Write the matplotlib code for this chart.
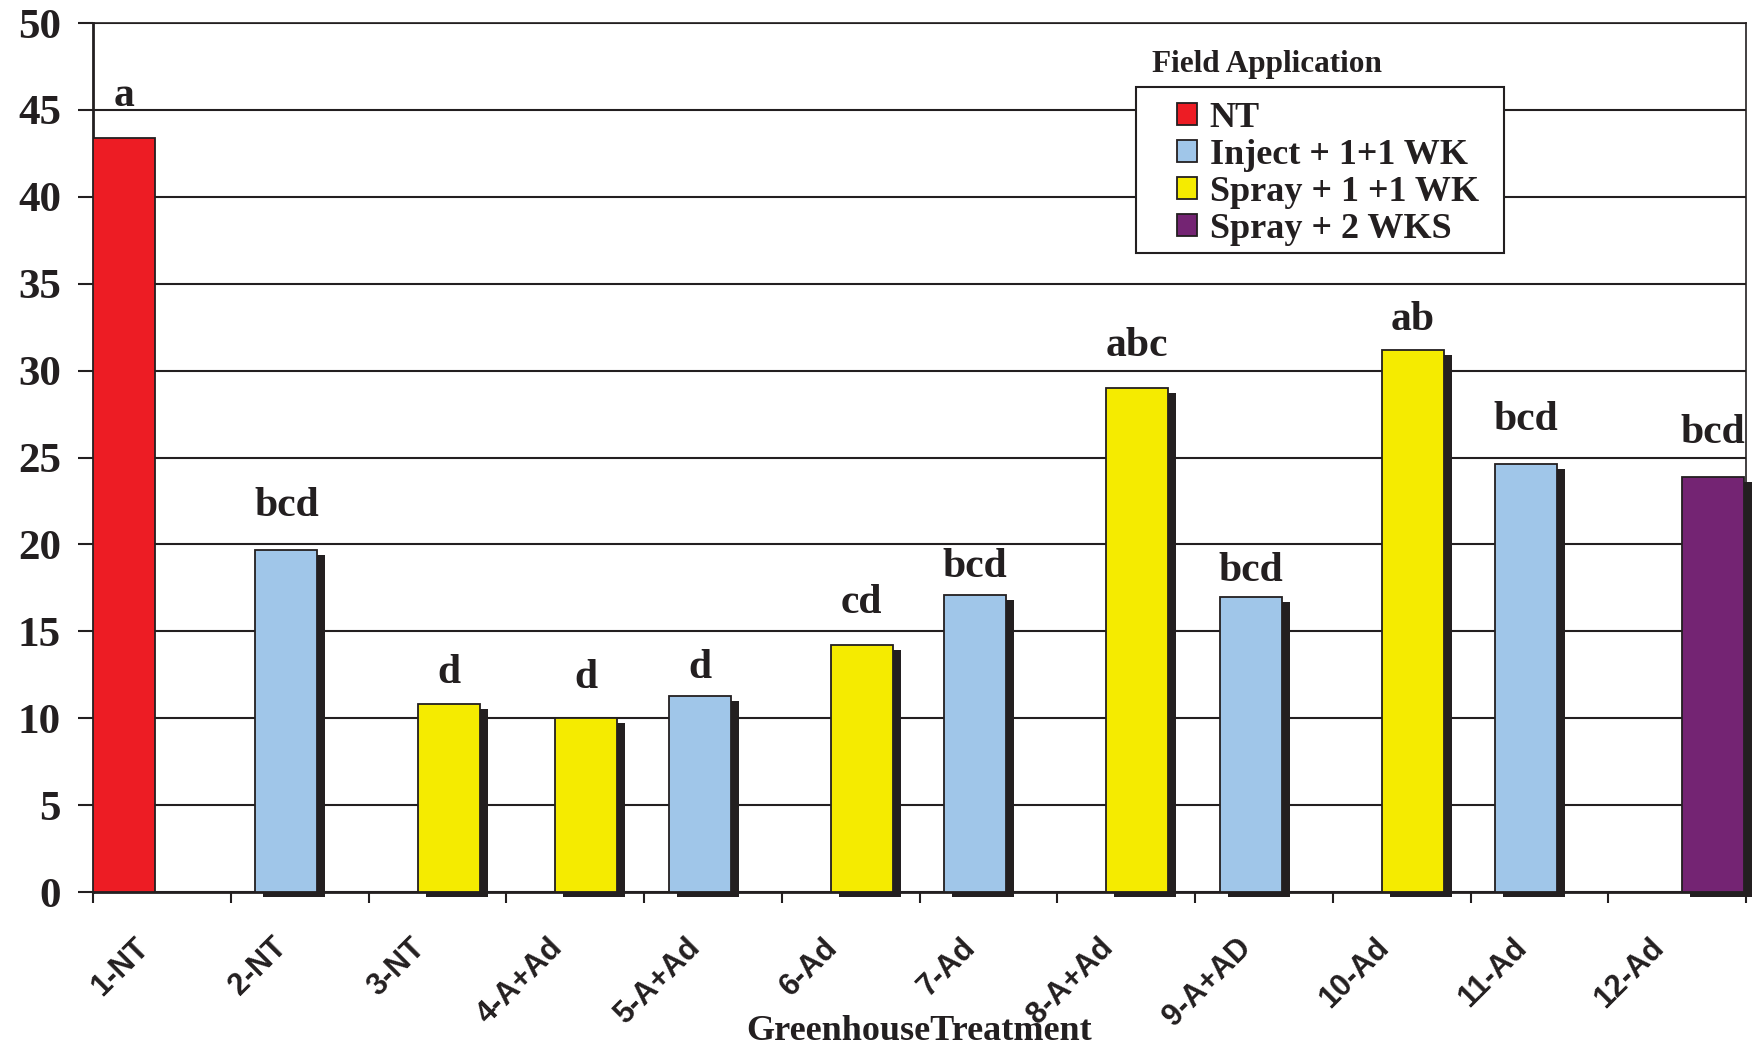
import matplotlib.pyplot as plt
from matplotlib.patches import Patch, Rectangle
from matplotlib.transforms import ScaledTranslation

categories = ["1-NT", "2-NT", "3-NT", "4-A+Ad", "5-A+Ad", "6-Ad",
              "7-Ad", "8-A+Ad", "9-A+AD", "10-Ad", "11-Ad", "12-Ad"]
values = [43.4, 19.7, 10.8, 10.0, 11.3, 14.2, 17.1, 29.0, 17.0, 31.2, 24.6, 23.9]
groups = [0, 1, 2, 2, 1, 2, 1, 2, 1, 2, 1, 3]
letters = ["a", "bcd", "d", "d", "d", "cd", "bcd", "abc", "bcd", "ab", "bcd", "bcd"]

series_names = ["NT", "Inject + 1+1 WK", "Spray + 1 +1 WK", "Spray + 2 WKS"]
series_colors = ["#ED1C24", "#A0C6E9", "#F5EB00", "#742473"]

# gap (points) between bar top and its letter, as placed in the original
letter_offsets = [23, 24.5, 15.5, 22, 12.5, 23, 12.5, 23, 11, 14, 24.5, 24.5]

INK = "#231F20"
SERIF = "Liberation Serif"
SANS = "Liberation Sans"

bar_w = 0.45
step = 0.178

fig = plt.figure(figsize=(17.56, 10.47), dpi=100)
ax = fig.add_axes([0.053, 0.148, 0.9413, 0.830])

lefts = [i + g * step for i, g in enumerate(groups)]
colors = [series_colors[g] for g in groups]

# drop shadow (the NT bar has none)
sh = [(x, v) for x, v, g in zip(lefts, values, groups) if g != 0]
shadow_tr = ax.transData + ScaledTranslation(8 / 100, -5 / 100, fig.dpi_scale_trans)
ax.bar([s[0] for s in sh], [s[1] for s in sh], width=bar_w, align="edge", color=INK,
       linewidth=0, transform=shadow_tr, zorder=2, clip_on=False)
ax.bar(lefts, values, width=bar_w, align="edge", color=colors,
       edgecolor=INK, linewidth=1.3, zorder=3)

for x, v, lab, off in zip(lefts, values, letters, letter_offsets):
    ax.annotate(lab, xy=(x + bar_w / 2, v), xytext=(0, off), textcoords="offset points",
                ha="center", va="baseline", fontsize=30, fontweight="bold",
                family=SERIF, color=INK, zorder=4)

ax.set_xlim(0, 12)
ax.set_ylim(0, 50)
ax.set_yticks(range(0, 51, 5))
ax.yaxis.grid(True, color=INK, linewidth=1.5)
ax.set_axisbelow(True)
ax.tick_params(axis="y", direction="out", length=11, width=1.5, color=INK, pad=12)
for t in ax.get_yticklabels():
    t.set_fontfamily(SERIF)
    t.set_fontweight("bold")
    t.set_fontsize(31)
    t.set_color(INK)

ax.set_xticks(range(13))
ax.set_xticklabels([])
ax.tick_params(axis="x", direction="out", length=8, width=1.5, color=INK)
for i, cat in enumerate(categories):
    ax.annotate(cat, xy=(i + 0.5, 0), xycoords=("data", "axes fraction"),
                xytext=(-20, -29), textcoords="offset points",
                ha="right", va="top", rotation=45, rotation_mode="anchor",
                fontsize=22, fontweight="bold", family=SANS, color=INK)

ax.set_xlabel("GreenhouseTreatment", fontsize=26, fontweight="bold",
              family=SERIF, color=INK, labelpad=0)
ax.xaxis.set_label_coords(0.5, -0.141)

for side in ["left", "bottom"]:
    ax.spines[side].set_linewidth(2)
    ax.spines[side].set_color(INK)
for side in ["right", "top"]:
    ax.spines[side].set_linewidth(1.2)
    ax.spines[side].set_color(INK)

# legend: entries without frame, box drawn separately to get the wide side margins
ax.add_patch(Rectangle((0.631, 0.735), 0.2225, 0.191, transform=ax.transAxes,
                       facecolor="white", edgecolor=INK, linewidth=1.5, zorder=5))
handles = [Patch(facecolor=c, edgecolor=INK, linewidth=1.3) for c in series_colors]
leg = ax.legend(handles, series_names, loc="upper left", bbox_to_anchor=(0.6556, 0.909),
                prop={"family": SERIF, "weight": "bold", "size": 26},
                frameon=False, handlelength=0.56, handleheight=0.56, handletextpad=0.35,
                labelspacing=0.11, borderpad=0, borderaxespad=0)
leg.set_zorder(6)
for t in leg.get_texts():
    t.set_color(INK)

fig.text(0.7215, 0.9315, "Field Application", ha="center", va="baseline",
         fontsize=22.5, fontweight="bold", family=SERIF, color=INK)

fig.savefig("out.png", dpi=100)
